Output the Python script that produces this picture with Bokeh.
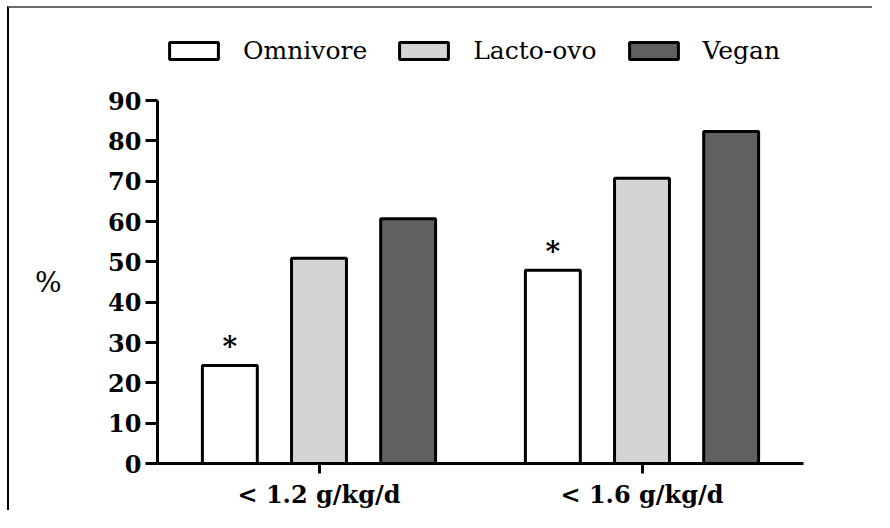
from bokeh.plotting import figure
from bokeh.layouts import column
from bokeh.models import (FactorRange, Range1d, Legend, LegendItem, FixedTicker,
                          ColumnDataSource, LinearAxis)
from bokeh.transform import dodge
from bokeh.core.properties import value
from bokeh.embed import file_html
from bokeh.resources import INLINE

# ---- data ----
groups = ["< 1.2 g/kg/d", "< 1.6 g/kg/d"]
series = ["Omnivore", "Lacto-ovo", "Vegan"]
omnivore = [24.3, 47.9]
lacto_ovo = [50.9, 70.7]
vegan = [60.7, 82.3]
omnivore_marks = ["*", "*"]
y_ticks = [0, 10, 20, 30, 40, 50, 60, 70, 80, 90]
y_axis_max = 90
y_axis_label = "%"

colors = ["#ffffff", "#d4d4d4", "#606060"]
offsets = [-0.276, 0.0, 0.276]
bar_w = 0.17

src = ColumnDataSource(dict(groups=groups, omnivore=omnivore, lacto_ovo=lacto_ovo,
                            vegan=vegan, marks=omnivore_marks))

# frame spans the full height above the x axis; the y axis line stops at 90
frame_h = 455
px_per_unit = 363 / 90
p = figure(x_range=FactorRange(*groups), y_range=Range1d(0, frame_h / px_per_unit),
           width=865, height=504, output_backend="svg", toolbar_location=None,
           min_border_left=148, min_border_right=71, min_border_top=0,
           min_border_bottom=49)
p.styles = {"border-top": "2px solid #6a6a6a", "border-left": "2px solid #000000"}
p.grid.visible = False
p.outline_line_color = None
p.background_fill_color = "white"

renderers = []
for col, c, off in zip(["omnivore", "lacto_ovo", "vegan"], colors, offsets):
    r = p.vbar(x=dodge("groups", off, range=p.x_range), top=col, width=bar_w,
               source=src, fill_color=c, line_color="black", line_width=3)
    renderers.append(r)

p.text(x=dodge("groups", offsets[0], range=p.x_range), y="omnivore", text="marks",
       source=src, text_align="center", text_baseline="middle", y_offset=-19,
       text_font=value("DejaVu Serif"), text_font_style="bold",
       text_font_size="28px", text_color="black")

legend = Legend(items=[LegendItem(label=s, renderers=[r]) for s, r in zip(series, renderers)],
                orientation="horizontal", location=(6, 398))
legend.border_line_color = None
legend.background_fill_alpha = 0
legend.padding = 0
legend.margin = 0
legend.spacing = 26
legend.label_standoff = 19
legend.glyph_width = 61
legend.glyph_height = 21
legend.label_text_font = "DejaVu Serif"
legend.label_text_font_size = "25px"
legend.label_text_color = "black"
p.add_layout(legend)

for ax in (p.xaxis[0], p.yaxis[0]):
    ax.axis_line_width = 3
    ax.axis_line_color = "black"
    ax.major_tick_line_width = 3
    ax.major_tick_line_color = "black"
    ax.major_tick_in = 0
    ax.minor_tick_line_color = None
    ax.major_label_text_font = "DejaVu Serif"
    ax.major_label_text_font_style = "bold"
    ax.major_label_text_color = "black"

p.yaxis.ticker = FixedTicker(ticks=y_ticks)
p.yaxis.bounds = (0, y_axis_max)
p.yaxis.major_tick_out = 12
p.yaxis.major_label_standoff = 4
p.yaxis.major_label_text_font_size = "24px"

# the "%" label, centred on the 0-90 axis, as an outer left axis
mid = y_axis_max / 2
label_axis = LinearAxis(ticker=FixedTicker(ticks=[mid]),
                        major_label_overrides={mid: y_axis_label},
                        axis_line_color=None, major_tick_line_color=None,
                        minor_tick_line_color=None, major_tick_in=0, major_tick_out=0,
                        major_label_standoff=44,
                        major_label_text_font="DejaVu Serif",
                        major_label_text_font_size="28px",
                        major_label_text_color="black")
p.add_layout(label_axis, "left")

p.xaxis.major_tick_out = 10
p.xaxis.major_label_standoff = 6
p.xaxis.major_label_text_font_size = "24px"

root = column(p, styles={"padding-top": "6px", "padding-left": "7px",
                         "background-color": "white"})
open("out.html", "w").write(file_html(root, INLINE))
